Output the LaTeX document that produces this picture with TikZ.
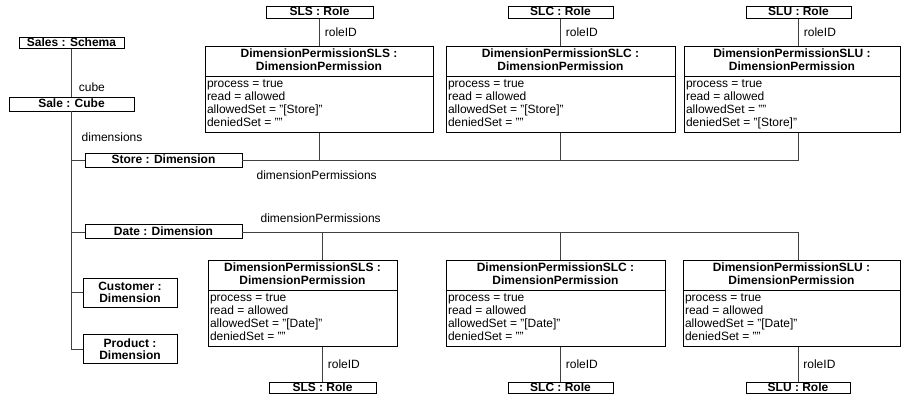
\documentclass[tikz,border=0pt]{standalone}
\usepackage{fontspec}
\setmainfont{Liberation Sans}
\usetikzlibrary{positioning, calc, shapes.multipart}

\newcommand{\permhead}[1]{\begin{tabular}{@{}c@{}}\textbf{DimensionPermission#1 :}\\\textbf{DimensionPermission}\end{tabular}}
\newcommand{\permattrs}[2]{\begin{tabular}{@{}l@{}}process = true\\read = allowed\\allowedSet = #1\\deniedSet = #2\end{tabular}}

\begin{document}
\begin{tikzpicture}[
        x=1pt, y=-1pt,
        font=\fontsize{12}{13}\selectfont,
        obj/.style={
            rectangle,
            draw=black,
            line width=0.9pt,
            inner xsep=2pt,
            inner ysep=0pt,
            text height=9pt,
            text depth=2.5pt,
            align=center,
            font=\fontsize{12}{13}\selectfont\bfseries
        },
        perm/.style={
            rectangle split,
            rectangle split parts=2,
            rectangle split part align={center, left},
            draw=black,
            line width=0.9pt,
            inner xsep=2pt,
            inner ysep=1.5pt,
            anchor=north
        },
        link/.style={
            draw=black!75,
            line width=0.8pt
        },
        lbl/.style={
            font=\fontsize{12}{13}\selectfont,
            inner sep=1pt
        }
    ]
    \useasboundingbox (0,0) rectangle (902,398);

    % Schema, cube and dimensions
    \node[obj, minimum width=105pt] (schema) at (71.5,43) {Sales : Schema};
    \node[obj, minimum width=125pt, minimum height=14pt] (cube) at (71.5,104) {Sale : Cube};
    \node[obj, minimum width=157pt, minimum height=14pt] (store) at (163.5,160) {Store : Dimension};
    \node[obj, minimum width=157pt, minimum height=14pt, below=57pt of store] (date) {Date : Dimension};
    \node[obj, minimum width=94pt, minimum height=29pt, text height=, text depth=, inner ysep=1pt] (customer) at (130,292.5) {Customer :\\[-1pt]Dimension};
    \node[obj, minimum width=94pt, minimum height=29pt, text height=, text depth=, inner ysep=1pt, below=27pt of customer] (product) {Product :\\[-1pt]Dimension};

    % Roles above Store
    \node[obj, minimum width=107pt] (roleTopSLS) at (319.5,12.5) {SLS : Role};
    \node[obj, minimum width=105pt] (roleTopSLC) at (560.5,12.5) {SLC : Role};
    \node[obj, minimum width=105pt] (roleTopSLU) at (798.5,12.5) {SLU : Role};

    % Permissions on Store
    \node[perm, minimum width=228pt] (topSLS) at (319,46) {\permhead{SLS}\nodepart{two}\permattrs{"[Store]"}{""}};
    \node[perm, minimum width=229pt] (topSLC) at (560.5,46) {\permhead{SLC}\nodepart{two}\permattrs{"[Store]"}{""}};
    \node[perm, minimum width=216pt] (topSLU) at (792,46) {\permhead{SLU}\nodepart{two}\permattrs{""}{"[Store]"}};

    % Permissions on Date
    \node[perm, minimum width=189pt] (botSLS) at (302.5,260) {\permhead{SLS}\nodepart{two}\permattrs{"[Date]"}{""}};
    \node[perm, minimum width=219pt] (botSLC) at (555.5,260) {\permhead{SLC}\nodepart{two}\permattrs{"[Date]"}{""}};
    \node[perm, minimum width=217pt] (botSLU) at (791.5,260) {\permhead{SLU}\nodepart{two}\permattrs{"[Date]"}{""}};

    % Roles below Date
    \node[obj, minimum width=107pt] (roleBotSLS) at (322.5,388) {SLS : Role};
    \node[obj, minimum width=105pt] (roleBotSLC) at (560.5,388) {SLC : Role};
    \node[obj, minimum width=104pt] (roleBotSLU) at (798,388) {SLU : Role};

    % Spine
    \draw[link] (schema.south) -- (cube.north) node[lbl, pos=0.8, right, xshift=6pt] {cube};
    \draw[link] (cube.south) |- (product.west);
    \draw[link] (cube.south |- store.west) -- (store.west);
    \draw[link] (cube.south |- date.west) -- (date.west);
    \draw[link] (cube.south |- customer.west) -- (customer.west);
    \node[lbl, anchor=west] (dimlbl) at ($(cube.south)+(9,26)$) {dimensions};

    % Store permissions
    \foreach \r in {SLS, SLC, SLU} {
        \draw[link] (roleTop\r.south) -- (roleTop\r.south |- top\r.north) node[lbl, midway, right, xshift=4pt] {roleID};
        \draw[link] (store.east) -| (roleTop\r.south |- top\r.south);
    }
    \node[lbl, anchor=west] (storelbl) at ($(store.east)+(13,15)$) {dimensionPermissions};

    % Date permissions
    \foreach \r in {SLS, SLC, SLU} {
        \draw[link] (date.east) -| (roleBot\r.north |- bot\r.north);
        \draw[link] (roleBot\r.north |- bot\r.south) -- (roleBot\r.north) node[lbl, midway, right, xshift=4pt] {roleID};
    }
    \node[lbl, anchor=west] (datelbl) at ($(date.east)+(17,-14)$) {dimensionPermissions};

\end{tikzpicture}
\end{document}
